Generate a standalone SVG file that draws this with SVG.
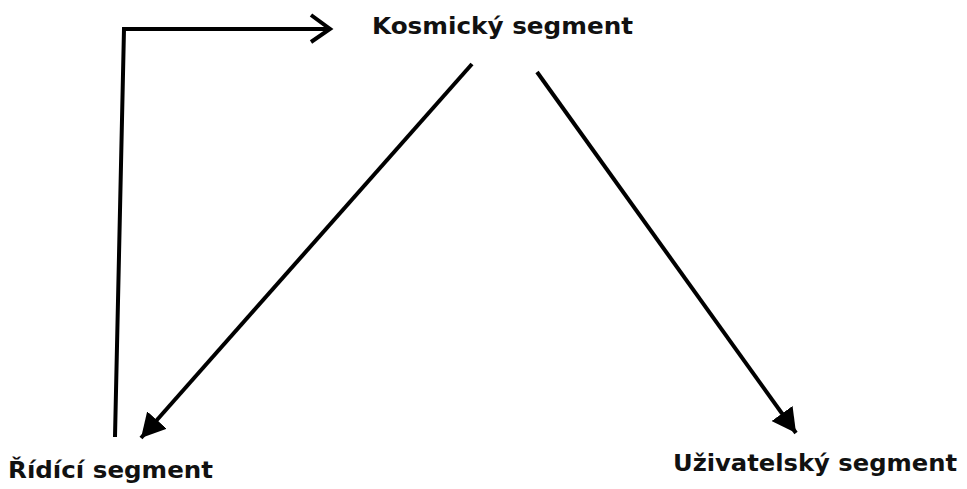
<svg xmlns="http://www.w3.org/2000/svg" width="967" height="489" viewBox="0 0 967 489">
<style>
.lbl{font-family:"DejaVu Sans","Verdana",sans-serif;font-weight:bold;font-size:23px;fill:#111}
.c{fill:none;stroke:#000;stroke-width:4}
</style>
<defs>
<marker id="fill" viewBox="0 0 10 10" refX="10" refY="5" markerWidth="6" markerHeight="6.5" markerUnits="strokeWidth" orient="auto" preserveAspectRatio="none">
<path d="M0,0 L10,5 L0,10 z" fill="#000"/>
</marker>
</defs>
<rect width="967" height="489" fill="#fff"/>
<g id="connectors">
<polyline class="c" points="115,437 124,29 330,29"/>
<polyline class="c" points="311,15 330,29 311,42" stroke-linejoin="miter"/>
<line class="c" x1="472" y1="64" x2="141" y2="438" marker-end="url(#fill)"/>
<line class="c" x1="537" y1="72" x2="796" y2="433" marker-end="url(#fill)"/>
</g>
<g id="kosmicky"><text class="lbl" x="372" y="34" textLength="261" lengthAdjust="spacingAndGlyphs">Kosmický segment</text></g>
<g id="ridici"><text class="lbl" x="8" y="478" textLength="205" lengthAdjust="spacingAndGlyphs">Řídící segment</text></g>
<g id="uzivatelsky"><text class="lbl" x="673" y="471" textLength="284" lengthAdjust="spacingAndGlyphs">Uživatelský segment</text></g>
</svg>
